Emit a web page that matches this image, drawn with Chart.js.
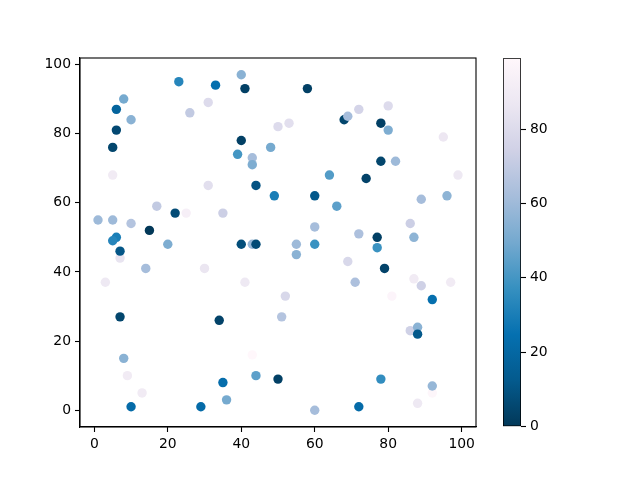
<!DOCTYPE html>
<html><head><meta charset="utf-8">
<script src="https://cdn.jsdelivr.net/npm/chart.js@4"></script>
<style>html,body{margin:0;padding:0;background:#fff}#wrap{position:relative;width:640px;height:480px}canvas{position:absolute;top:0}</style>
</head><body>
<div id="wrap">
<canvas id="main" width="640" height="480" style="left:0;width:640px;height:480px"></canvas>
<canvas id="cbar" width="160" height="480" style="left:480px;width:160px;height:480px"></canvas>
</div>
<script>
const xValues = [40,23,33,41,58,8,31,6,26,10,50,53,6,40,5,48,39,43,43,5,31,44,68,69,72,80,78,80,95,78,82,64,74,99,49,60,66,89,96,17,22,25,35,1,5,10,15,6,5,20,40,43,44,7,7,14,30,3,41,60,72,86,77,87,55,60,77,55,69,79,71,87,89,97,52,81,92,7,34,51,86,88,88,8,43,9,44,50,35,13,36,10,29,60,72,78,92,92,88];
const yValues = [97,95,94,93,93,90,89,87,86,84,82,83,81,78,76,76,74,73,71,68,65,65,84,85,87,88,83,81,79,72,72,68,67,68,62,62,59,61,62,59,57,57,57,55,55,54,52,50,49,48,48,48,48,44,46,41,41,37,37,53,51,54,50,50,48,48,47,45,43,41,37,38,36,37,33,33,32,27,26,27,23,24,22,15,16,10,10,9,8,5,3,1,1,0,1,9,5,7,2];
const cValues = [55,33,24,3,3,50,80,18,70,55,80,82,6,3,5,50,40,62,52,90,82,10,5,62,76,80,3,52,87,5,60,43,4,88,30,12,45,62,56,70,7,93,73,60,60,66,0,30,33,52,8,58,7,85,11,62,86,88,88,62,64,73,3,56,60,38,38,55,78,4,64,90,74,90,78,97,24,5,4,66,74,55,12,55,99,90,45,3,23,90,50,22,22,62,22,36,98,58,88];
const xTicks = [0,20,40,60,80,100];
const yTicks = [0,20,40,60,80,100];
const cTicks = [0,20,40,60,80];

const PuBu = ['#fff7fb','#ece7f2','#d0d1e6','#a6bddb','#74a9cf','#3690c0','#0570b0','#045a8d','#023858'];
const cMin = Math.min(...cValues), cMax = Math.max(...cValues);
function hex(h){return [parseInt(h.slice(1,3),16),parseInt(h.slice(3,5),16),parseInt(h.slice(5,7),16)];}
function cmap(v){
  const t = (v - cMin)/(cMax - cMin);
  const s = Math.min(1, Math.max(0, 1 - t)) * (PuBu.length - 1);
  const i = Math.min(PuBu.length - 2, Math.floor(s)), f = s - i;
  const a = hex(PuBu[i]), b = hex(PuBu[i+1]);
  const c = a.map((q,k)=>Math.round(q + (b[k]-q)*f));
  return 'rgb(' + c.join(',') + ')';
}
Chart.defaults.font.family = "'DejaVu Sans', sans-serif";
Chart.defaults.font.size = 13.9;
Chart.defaults.color = '#000';

const frame = {id:'frame', afterDraw(chart){
  const a = chart.chartArea, ctx = chart.ctx;
  ctx.save(); ctx.strokeStyle = '#000'; ctx.lineWidth = 1.1;
  ctx.strokeRect(a.left, a.top, a.right - a.left, a.bottom - a.top);
  ctx.restore();
}};

function axisCommon(ticksArr){
  return {
    grid:{display:true, drawOnChartArea:false, tickLength:5, tickColor:'#000', tickWidth:1.1},
    border:{display:true, color:'#000', width:1.1},
    ticks:{color:'#000', padding:4, autoSkip:false, maxRotation:0, font:{size:13.9}},
    afterBuildTicks: s => { s.ticks = ticksArr.map(v=>({value:v})); }
  };
}
const xs = Object.assign(axisCommon(xTicks), {type:'linear', position:'bottom', min:-3.9, max:103.9, afterFit: s => { s.height = 53; }});
const ys = Object.assign(axisCommon(yTicks), {type:'linear', position:'left', min:-4.85, max:101.85, afterFit: s => { s.width = 80; }});

new Chart(document.getElementById('main'), {
  type:'scatter',
  data:{datasets:[{
    data: xValues.map((x,i)=>({x:x, y:yValues[i]})),
    pointBackgroundColor: cValues.map(cmap),
    pointBorderWidth:0, pointRadius:4.7, pointHoverRadius:4.7
  }]},
  options:{
    responsive:false, animation:false, devicePixelRatio:1,
    layout:{padding:{left:0, top:58, right:164, bottom:0}},
    plugins:{legend:{display:false}, tooltip:{enabled:false}},
    scales:{x:xs, y:ys}
  },
  plugins:[frame]
});

new Chart(document.getElementById('cbar'), {
  type:'bar',
  data:{labels:['c'], datasets:[{
    data:[[cMin, cMax]],
    backgroundColor: (ctx) => {
      const a = ctx.chart.chartArea; if (!a) return '#777';
      const g = ctx.chart.ctx.createLinearGradient(0, a.bottom, 0, a.top);
      PuBu.slice().reverse().forEach((c,i)=> g.addColorStop(i/(PuBu.length-1), c));
      return g;
    },
    borderColor:'#000', borderWidth:1.1, borderSkipped:false,
    barPercentage:1, categoryPercentage:1
  }]},
  options:{
    responsive:false, animation:false, devicePixelRatio:1,
    layout:{padding:{left:23, top:58.3, right:0, bottom:53.3}},
    plugins:{legend:{display:false}, tooltip:{enabled:false}},
    scales:{
      x:{display:false},
      y:{type:'linear', position:'right', min:cMin, max:cMax,
        grid:{display:true, drawOnChartArea:false, tickLength:5, tickColor:'#000', tickWidth:1.1},
        border:{display:false},
        ticks:{color:'#000', padding:4, autoSkip:false, font:{size:13.9}},
        afterBuildTicks: s => { s.ticks = cTicks.map(v=>({value:v})); },
        afterFit: s => { s.width = 119; }
      }
    }
  }
});
</script>
</body></html>
